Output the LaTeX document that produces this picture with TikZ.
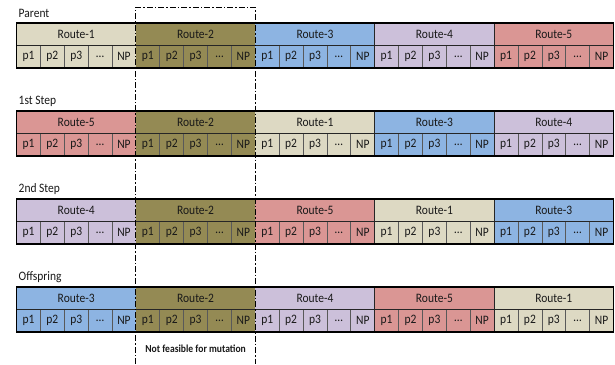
\documentclass[tikz,border=0pt]{standalone}
\usepackage{fontspec}
\usepackage{graphicx}
\setmainfont{Carlito}
\definecolor{rA}{HTML}{DDD9C3}
\definecolor{rB}{HTML}{948A54}
\definecolor{rC}{HTML}{8DB4E2}
\definecolor{rD}{HTML}{CCC0DA}
\definecolor{rE}{HTML}{DA9694}
\newcommand\talltext[1]{\scalebox{1}[1.12]{#1}}
\tikzset{
  routetxt/.style={font=\fontsize{11.5}{12}\selectfont, text=black!90, inner sep=0pt},
  celltxt/.style={font=\fontsize{11.5}{12}\selectfont, text=black!90, inner sep=0pt},
  steplabel/.style={font=\fontsize{11.5}{12}\selectfont, text=black!90, anchor=west, inner sep=0pt},
  outerline/.style={line width=1.6pt, black},
  midline/.style={line width=1pt, black!85},
  cellline/.style={line width=0.7pt, black!65},
  fenceline/.style={line width=0.9pt, black, dash pattern=on 6pt off 2pt on 1.5pt off 2pt},
  notetxt/.style={font=\bfseries\fontsize{9.6}{10}\selectfont, text=black!90, inner sep=0pt}
}
\begin{document}
\begin{tikzpicture}[x=1pt,y=-1pt]
\useasboundingbox[fill=white] (0,0) rectangle (615,364);
\def\L{16.5}
\def\W{119.4}
\def\C{23.88}
\def\H{22.5}
\def\R{613.5}
\foreach \T/\lab/\nm/\order in {23/Parent/par/{A/1,B/2,C/3,D/4,E/5},
                                111/1st Step/one/{E/5,B/2,A/1,C/3,D/4},
                                199/2nd Step/two/{D/4,B/2,E/5,A/1,C/3},
                                287/Offspring/off/{C/3,B/2,D/4,E/5,A/1}}{
  \node[steplabel] (\nm-label) at (18.5,\T-9.5) {\talltext{\lab}};
  \foreach \col/\r [count=\i from 0] in \order {
    \fill[r\col] (\L+\i*\W,\T) rectangle (\L+\i*\W+\W,\T+2*\H);
    \node[routetxt] (\nm-r\r) at (\L+\i*\W+\W/2,\T+\H/2) {\talltext{Route-\r}};
    \foreach \c [count=\j from 0] in {p1,p2,p3,…,NP} {
      \node[celltxt] (\nm-r\r-\j) at (\L+\i*\W+\j*\C+\C/2,\T+1.5*\H) {\talltext{\c}};
    }
    \foreach \j in {1,2,3,4} {
      \draw[cellline] (\L+\i*\W+\j*\C,\T+\H) -- (\L+\i*\W+\j*\C,\T+2*\H);
    }
  }
  \draw[midline] (\L,\T+\H) -- (\R,\T+\H);
  \draw[midline] (\L+3*\W,\T) -- (\L+3*\W,\T+2*\H);
  \draw[midline] (\L+4*\W,\T) -- (\L+4*\W,\T+2*\H);
  \draw[outerline] (\L,\T) rectangle (\R,\T+2*\H);
}
\coordinate (fenceBL) at (\L+\W,364);
\coordinate (fenceTL) at (\L+\W,7);
\coordinate (fenceTR) at (\L+2*\W,7);
\coordinate (fenceBR) at (\L+2*\W,364);
\draw[fenceline] (fenceBL) -- (fenceTL) -- (fenceTR) -- (fenceBR);
\node[notetxt] (note) at (\L+1.5*\W,349) {\talltext{Not feasible for mutation}};
\end{tikzpicture}
\end{document}
